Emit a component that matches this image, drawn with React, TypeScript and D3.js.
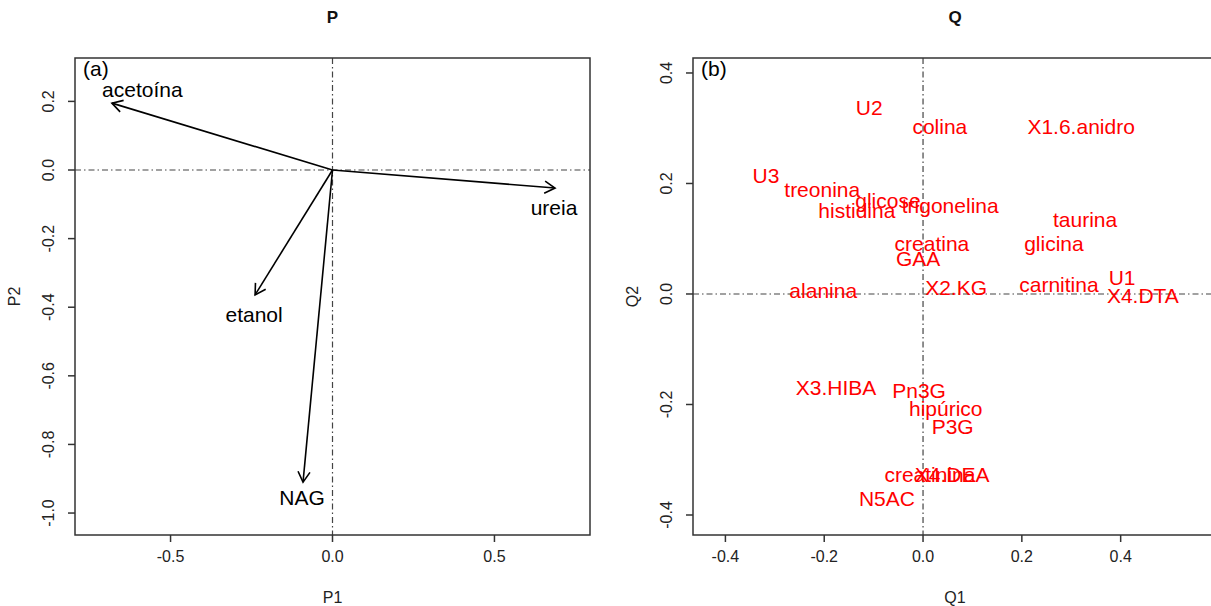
import React from "react";
import * as d3 from "d3";

// Panel (a): loading vectors
const loadNames = ["acetoína", "ureia", "etanol", "NAG"];
const loadX = [-0.681, 0.687, -0.239, -0.091];
const loadY = [0.195, -0.0525, -0.364, -0.91];
const loadLabelX = [-0.587, 0.684, -0.242, -0.094];
const loadLabelY = [0.236, -0.11, -0.422, -0.955];
const pXTicks = [-0.5, 0.0, 0.5];
const pYTicks = [0.2, 0.0, -0.2, -0.4, -0.6, -0.8, -1.0];

// Panel (b): metabolite scores
const metNames = [
  "U2", "colina", "X1.6.anidro", "U3", "treonina", "glicose", "histidina",
  "trigonelina", "taurina", "creatina", "glicina", "GAA", "alanina", "X2.KG",
  "carnitina", "U1", "X4.DTA", "X3.HIBA", "Pn3G", "hipúrico", "P3G",
  "creatinina", "X4.DEA", "N5AC",
];
const metQ1 = [
  -0.109, 0.034, 0.320, -0.318, -0.204, -0.071, -0.134,
  0.055, 0.328, 0.018, 0.265, -0.010, -0.202, 0.067,
  0.275, 0.403, 0.445, -0.176, -0.008, 0.046, 0.060,
  0.014, 0.059, -0.073,
];
const metQ2 = [
  0.337, 0.304, 0.304, 0.214, 0.190, 0.169, 0.152,
  0.161, 0.134, 0.092, 0.091, 0.065, 0.006, 0.011,
  0.018, 0.029, -0.002, -0.170, -0.174, -0.208, -0.240,
  -0.326, -0.326, -0.371,
];
const qTicks = [-0.4, -0.2, 0.0, 0.2, 0.4];

const FONT = "'Liberation Sans', Arial, Helvetica, sans-serif";
const AXIS = "#333";
const fmt = (v: number) => d3.format(".1f")(v).replace("\u2212", "-");

type Scale = d3.ScaleLinear<number, number>;

function Frame(props: {
  x: Scale; y: Scale; xTicks: number[]; yTicks: number[];
  title: string; xLab: string; yLab: string; tag: string;
}) {
  const { x, y, xTicks, yTicks, title, xLab, yLab, tag } = props;
  const [x0, x1] = x.range();
  const [y0, y1] = y.range(); // y0 bottom, y1 top
  const cx = (x0 + x1) / 2;
  const cy = (y0 + y1) / 2;
  const tick = 7;
  return (
    <g fontFamily={FONT}>
      {/* reference lines through the origin */}
      <line x1={x0} x2={x1} y1={y(0)} y2={y(0)} stroke="#444" strokeWidth={1.2} strokeDasharray="6,3,1.5,3" />
      <line x1={x(0)} x2={x(0)} y1={y1} y2={y0} stroke="#444" strokeWidth={1.2} strokeDasharray="6,3,1.5,3" />
      <rect x={x0} y={y1} width={x1 - x0} height={y0 - y1} fill="none" stroke={AXIS} strokeWidth={1.5} />
      {xTicks.map((t) => (
        <g key={"x" + t}>
          <line x1={x(t)} x2={x(t)} y1={y0} y2={y0 + tick} stroke={AXIS} strokeWidth={1.5} />
          <text x={x(t)} y={y0 + 27} textAnchor="middle" fontSize={16} fill="#222">{fmt(t)}</text>
        </g>
      ))}
      {yTicks.map((t) => (
        <g key={"y" + t}>
          <line x1={x0} x2={x0 - tick} y1={y(t)} y2={y(t)} stroke={AXIS} strokeWidth={1.5} />
          <text transform={`translate(${x0 - 21},${y(t)}) rotate(-90)`} textAnchor="middle" fontSize={16} fill="#222">{fmt(t)}</text>
        </g>
      ))}
      <text x={cx} y={23} textAnchor="middle" fontSize={17} fontWeight="bold" fill="#111">{title}</text>
      <text x={cx} y={603} textAnchor="middle" fontSize={16} fill="#222">{xLab}</text>
      <text transform={`translate(${x0 - 55},${cy}) rotate(-90)`} textAnchor="middle" fontSize={16} fill="#222">{yLab}</text>
      <text x={x0 + 8} y={y1 + 18} fontSize={21} fill="#000">{tag}</text>
    </g>
  );
}

function Arrow(props: { x1: number; y1: number; x2: number; y2: number }) {
  const { x1, y1, x2, y2 } = props;
  const ang = Math.atan2(y2 - y1, x2 - x1);
  const len = 12;
  const spread = Math.PI / 6;
  const a1 = ang + Math.PI - spread;
  const a2 = ang + Math.PI + spread;
  const d = `M${x2 + len * Math.cos(a1)},${y2 + len * Math.sin(a1)}L${x2},${y2}L${x2 + len * Math.cos(a2)},${y2 + len * Math.sin(a2)}`;
  return (
    <g stroke="#000" strokeWidth={1.6} fill="none">
      <line x1={x1} y1={y1} x2={x2} y2={y2} />
      <path d={d} />
    </g>
  );
}

export default function App() {
  const pX = d3.scaleLinear().domain([-0.795, 0.795]).range([75, 590]);
  const pY = d3.scaleLinear().domain([-1.064, 0.3265]).range([535, 58]);
  const qX = d3.scaleLinear().domain([-0.4656, 0.595]).range([693, 1217]);
  const qY = d3.scaleLinear().domain([-0.4362, 0.4271]).range([535, 58]);

  return (
    <svg width={1211} height={606} style={{ position: "absolute", left: 0, top: 0, background: "#fff" }}>
      <rect width={1211} height={606} fill="#fff" />
      <Frame x={pX} y={pY} xTicks={pXTicks} yTicks={pYTicks} title="P" xLab="P1" yLab="P2" tag="(a)" />
      {loadNames.map((n, i) => (
        <g key={n}>
          <Arrow x1={pX(0)} y1={pY(0)} x2={pX(loadX[i])} y2={pY(loadY[i])} />
          <text x={pX(loadLabelX[i])} y={pY(loadLabelY[i])} textAnchor="middle" dominantBaseline="central"
            fontFamily={FONT} fontSize={21} fill="#000">{n}</text>
        </g>
      ))}

      <Frame x={qX} y={qY} xTicks={qTicks} yTicks={qTicks} title="Q" xLab="Q1" yLab="Q2" tag="(b)" />
      {metNames.map((n, i) => (
        <text key={n} x={qX(metQ1[i])} y={qY(metQ2[i])} textAnchor="middle" dominantBaseline="central"
          fontFamily={FONT} fontSize={21} fill="#ff0000">{n}</text>
      ))}
    </svg>
  );
}
